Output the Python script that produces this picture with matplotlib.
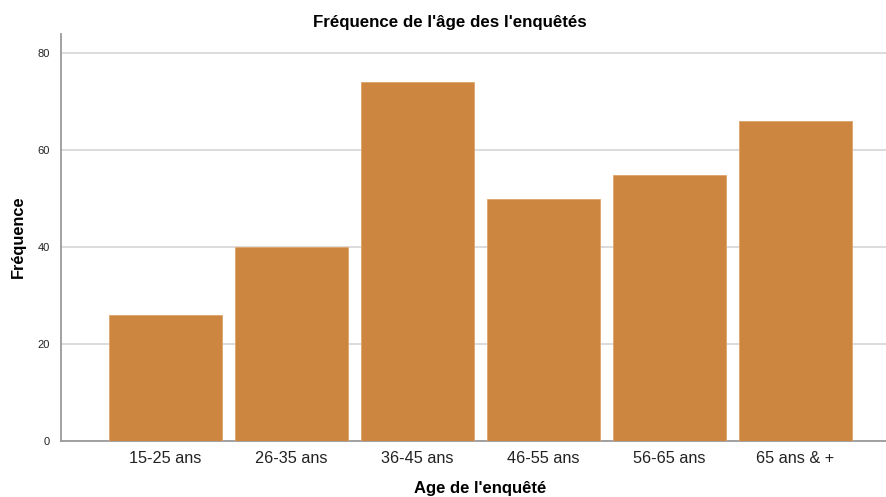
import matplotlib.pyplot as plt

plt.rcParams['font.family'] = ['Liberation Sans', 'DejaVu Sans']

# age classes and counts
categories = ["15-25 ans", "26-35 ans", "36-45 ans", "46-55 ans",
              "56-65 ans", "65 ans & +"]
counts = [26, 40, 74, 50, 55, 66]
y_ticks = [0, 20, 40, 60, 80]

fig = plt.figure(figsize=(8.87, 4.97), dpi=100)
ax = fig.add_axes([61 / 887, 56 / 497, 1 - 61 / 887, (441 - 34) / 497])

x = list(range(len(categories)))
ax.bar(x, counts, width=0.897, color='#CD863F', edgecolor='#E0A56C',
       linewidth=0.6, zorder=3)

ax.set_xlim(-0.829, 5.726)
ax.set_ylim(0, 84)
ax.set_yticks(y_ticks)
ax.set_yticklabels([str(v) for v in y_ticks], fontsize=8, color='#222222')
ax.set_xticks(x)
ax.set_xticklabels(categories, fontsize=11.7, color='#222222')
ax.tick_params(axis='both', length=0, pad=8)
ax.tick_params(axis='x', pad=7)

ax.yaxis.grid(True, color='#D6D6D6', linewidth=1.2, zorder=0)
for side in ['top', 'right']:
    ax.spines[side].set_visible(False)
for side in ['left', 'bottom']:
    ax.spines[side].set_color('#9A9A9A')
    ax.spines[side].set_linewidth(1.3)

fig.text(450 / 887, 1 - 22 / 497, "Fréquence de l'âge des l'enquêtés",
         ha='center', va='center', fontsize=12.2, fontweight='bold')
fig.text(480 / 887, 1 - 489 / 497, "Age de l'enquêté",
         ha='center', va='center', fontsize=12, fontweight='bold')
fig.text(18 / 887, 1 - 237 / 497, "Fréquence", rotation=90,
         ha='center', va='center', fontsize=11.8, fontweight='bold')

fig.savefig('out.png', dpi=100)
